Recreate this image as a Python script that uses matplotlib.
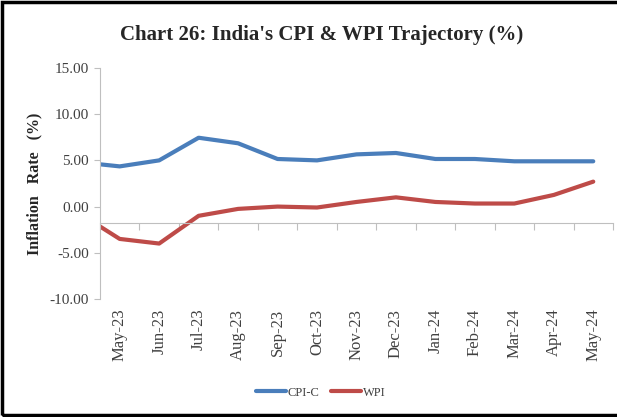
import matplotlib.pyplot as plt
from matplotlib.patches import Rectangle

months = ['Apr-23', 'May-23', 'Jun-23', 'Jul-23', 'Aug-23', 'Sep-23', 'Oct-23',
          'Nov-23', 'Dec-23', 'Jan-24', 'Feb-24', 'Mar-24', 'Apr-24', 'May-24']
cpi = [4.8, 4.35, 5.0, 7.45, 6.85, 5.15, 5.0, 5.65, 5.8, 5.15, 5.15, 4.9, 4.9, 4.9]
wpi = [-0.8, -3.5, -4.0, -1.0, -0.25, 0.0, -0.1, 0.5, 1.0, 0.5, 0.33, 0.33, 1.26, 2.7]

plt.rcParams['font.family'] = ['Liberation Serif', 'DejaVu Serif']

gray = '#BFBFBF'
txt = '#404040'

fig = plt.figure(figsize=(6.17, 4.17), dpi=100)
ax = fig.add_axes([0.162, 0.283, 0.8315, 0.554])

x = list(range(len(months)))
ax.plot(x, cpi, color='#4A7EBB', lw=3, label='CPI-C', solid_capstyle='round')
ax.plot(x, wpi, color='#BE4B48', lw=3, label='WPI', solid_capstyle='round')

ax.set_xlim(0.5, len(months) - 0.5)
ax.set_ylim(-10, 15)
ax.set_yticks([-10, -5, 0, 5, 10, 15])
ax.set_yticklabels([f'{v:.2f}' for v in [-10, -5, 0, 5, 10, 15]])
ax.tick_params(axis='y', colors=gray, length=4, labelsize=11, labelcolor=txt, pad=4)

for s in ['top', 'right']:
    ax.spines[s].set_visible(False)
ax.spines['left'].set_color(gray)
ax.spines['bottom'].set_color(gray)
ax.spines['bottom'].set_position(('data', -1.8))

# category boundaries as tick marks on the axis line
ax.set_xticks([i + 0.5 for i in range(len(months))])
ax.set_xticklabels([])
ax.tick_params(axis='x', colors=gray, length=5, direction='out')

# month labels at the bottom of the plot area
sec = ax.secondary_xaxis('bottom')
sec.spines['bottom'].set_visible(False)
sec.set_xticks(x[1:], labels=months[1:])
sec.tick_params(axis='x', length=0, labelsize=12, labelcolor=txt, rotation=90, pad=7)

ax.set_ylabel('Inflation   Rate   (%)', fontsize=11.5, fontweight='bold', color='#262626',
              labelpad=5)

fig.suptitle("Chart 26: India's CPI & WPI Trajectory (%)", fontsize=15,
             fontweight='bold', color='#262626', x=0.522, y=0.94)

ax.legend(loc='center', bbox_to_anchor=(0.43, -0.405), ncol=2, frameon=False,
          fontsize=9, handlelength=2.4, handletextpad=0.15, columnspacing=0.9,
          labelcolor=txt)

fig.patches.append(Rectangle((0.003, 0.004), 1.2, 0.991, transform=fig.transFigure,
                             fill=False, edgecolor='black', lw=2.5))

fig.savefig('out.png', dpi=100)
